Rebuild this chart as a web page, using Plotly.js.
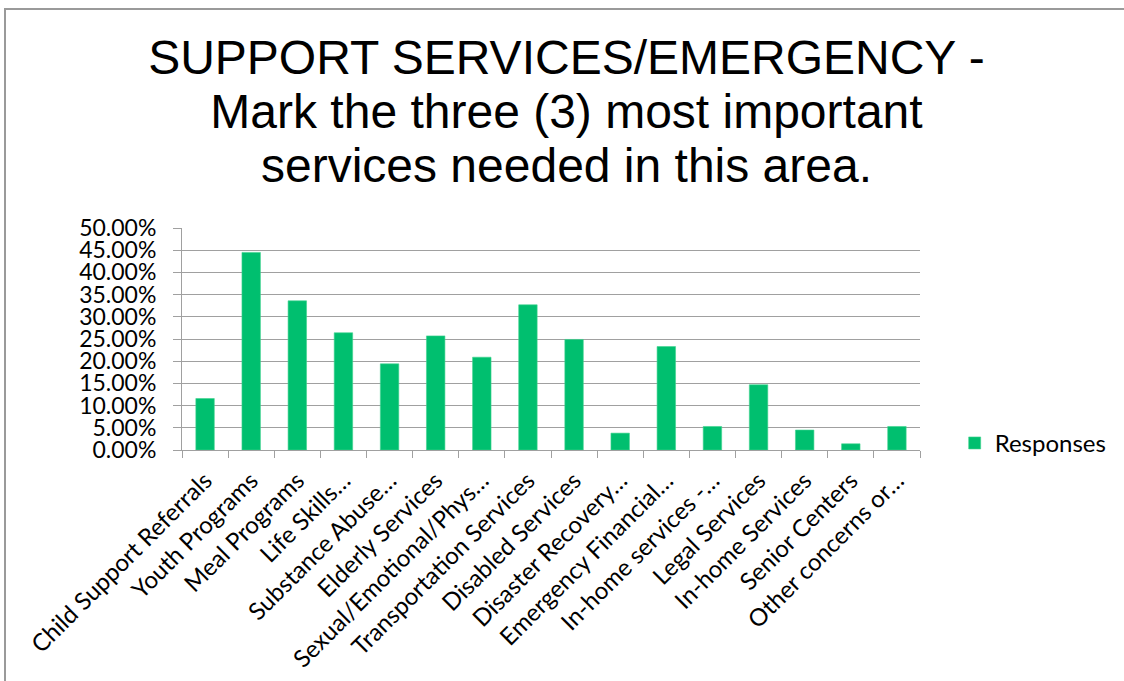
<!DOCTYPE html>
<html>
<head>
<meta charset="utf-8">
<script src="https://cdn.plot.ly/plotly-3.0.1.min.js"></script>
<style>
  html, body { margin: 0; padding: 0; background: #fff; }
  #wrap { position: relative; width: 1124px; height: 681px; overflow: hidden; }
  #chart { position: absolute; left: 0; top: 0; width: 1124px; height: 681px; }
  #frame { position: absolute; left: 4px; top: 8px; width: 1200px; height: 800px;
           border: 2px solid #9a9a9a; pointer-events: none; box-sizing: border-box; }
</style>
</head>
<body>
<div id="wrap">
  <div id="chart"></div>
  <div id="frame"></div>
</div>
<script>
const categories = [
  "Child Support Referrals",
  "Youth Programs",
  "Meal Programs",
  "Life Skills…",
  "Substance Abuse…",
  "Elderly Services",
  "Sexual/Emotional/Phys…",
  "Transportation Services",
  "Disabled Services",
  "Disaster Recovery…",
  "Emergency Financial…",
  "In-home services -…",
  "Legal Services",
  "In-home Services",
  "Senior Centers",
  "Other concerns or…"
];
const responses = [
  0.1160, 0.4450, 0.3360, 0.2640, 0.1940, 0.2570, 0.2090, 0.3270,
  0.2490, 0.0380, 0.2330, 0.0530, 0.1470, 0.0450, 0.0140, 0.0530
];
const seriesName = "Responses";
const titleLines = [
  "SUPPORT SERVICES/EMERGENCY -",
  "Mark the three (3) most important",
  "services needed in this area."
];

const green = "#00BF6F";
const gridColor = "#a0a0a0";

const titleText = titleLines
  .map(l => "<span style='font-size:48px'>" + l + "</span>")
  .join("<br>");

const trace = {
  type: "bar",
  x: categories,
  y: responses,
  name: seriesName,
  marker: { color: green, line: { color: "#3fd48f", width: 0.6 } },
  showlegend: true,
  hoverinfo: "x+y"
};

const layout = {
  width: 1124,
  height: 681,
  paper_bgcolor: "#ffffff",
  plot_bgcolor: "#ffffff",
  margin: { l: 182, r: 191, t: 228, b: 231 },
  bargap: 0.6,
  showlegend: true,
  title: {
    text: titleText,
    font: { family: "Liberation Sans, Arial, sans-serif", size: 41.5, color: "#000" },
    x: 0.521,
    xanchor: "center",
    xref: "paper",
    yref: "container",
    y: 0.891,
    yanchor: "top"
  },
  xaxis: {
    type: "category",
    tickangle: -45,
    tickson: "boundaries",
    ticks: "outside",
    ticklen: 7,
    tickcolor: gridColor,
    showline: true,
    linecolor: gridColor,
    linewidth: 1,
    showgrid: false,
    ticklabelstandoff: 6,
    tickfont: { family: "Lato, sans-serif", size: 24, color: "#000" },
    automargin: false
  },
  yaxis: {
    range: [0, 0.5],
    dtick: 0.05,
    tick0: 0,
    tickformat: ".2%",
    ticks: "outside",
    ticklen: 8,
    tickcolor: gridColor,
    showline: true,
    linecolor: gridColor,
    linewidth: 1,
    showgrid: true,
    gridcolor: gridColor,
    gridwidth: 1,
    zeroline: false,
    ticklabelstandoff: 12,
    tickfont: { family: "Lato, sans-serif", size: 23, color: "#000" },
    automargin: false
  },
  legend: {
    x: 1.047,
    xanchor: "left",
    xref: "paper",
    y: 0.03,
    yanchor: "middle",
    font: { family: "Lato, sans-serif", size: 24, color: "#000" },
    bgcolor: "rgba(0,0,0,0)"
  }
};

Plotly.newPlot("chart", [trace], layout, { displayModeBar: false, staticPlot: false });
</script>
</body>
</html>
